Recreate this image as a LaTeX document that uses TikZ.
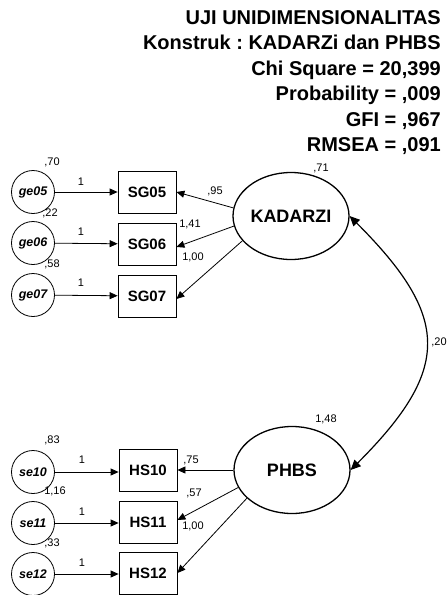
\documentclass[tikz,border=0pt]{standalone}
\usepackage{fontspec}
\setmainfont{Liberation Sans}
\usetikzlibrary{shapes.geometric,arrows.meta}
\frenchspacing
\begin{document}
\begin{tikzpicture}[x=1pt,y=-1pt,
  obsbox/.style={draw,line width=0.8pt,minimum width=58pt,minimum height=42pt,inner sep=0pt,
    font=\fontsize{15}{18}\selectfont\bfseries},
  latent/.style={ellipse,draw,line width=1.3pt,minimum width=116pt,minimum height=87pt,inner sep=0pt,
    font=\fontsize{18}{22}\selectfont\bfseries},
  errc/.style={circle,draw,line width=0.8pt,minimum size=43pt,inner sep=0pt,
    font=\fontsize{12.5}{15}\selectfont\bfseries\itshape},
  num/.style={inner sep=0pt,font=\fontsize{11}{13}\selectfont},
  titleline/.style={anchor=base east,inner sep=0pt,font=\fontsize{20}{24}\selectfont\bfseries},
  path1/.style={line width=0.8pt,-{Triangle[length=8pt,width=7pt]}},
  cov/.style={line width=1.2pt,{Triangle[length=10pt,width=9pt]}-{Triangle[length=10pt,width=9pt]}}]
\useasboundingbox (0,0) rectangle (447,595);

% heading with fit statistics
\node[titleline] (t1) at (441,24) {UJI UNIDIMENSIONALITAS};
\node[titleline] (t2) at (441,49.5) {Konstruk : KADARZi dan PHBS};
\node[titleline] (t3) at (441,75) {Chi Square = 20,399};
\node[titleline] (t4) at (441,100.5) {Probability = ,009};
\node[titleline] (t5) at (441,126) {GFI = ,967};
\node[titleline] (t6) at (441,151.5) {RMSEA = ,091};

% KADARZI block
\node[latent] (KADARZI) at (291,216) {KADARZI};
\node[obsbox] (SG05) at (147,192) {SG05};
\node[obsbox] (SG06) at (147,244) {SG06};
\node[obsbox] (SG07) at (147,296) {SG07};
\node[errc] (ge05) at (33,192) {ge05};
\node[errc] (ge06) at (33,243) {ge06};
\node[errc] (ge07) at (33,295) {ge07};

\draw[path1] (ge05) -- (SG05);
\draw[path1] (ge06) -- (SG06);
\draw[path1] (ge07) -- (SG07);
\draw[path1] (KADARZI.172) -- (SG05.east);
\draw[path1] (KADARZI.190) -- ([yshift=-3pt]SG06.east);
\draw[path1] (KADARZI.207) -- ([yshift=-3pt]SG07.east);

\node[num] (v70) at (52,162) {,70};
\node[num] (v22) at (50,213) {,22};
\node[num] (v58) at (52,264) {,58};
\node[num] (w1a) at (81,182) {1};
\node[num] (w1b) at (81,232) {1};
\node[num] (w1c) at (81,283) {1};
\node[num] (l95) at (215,191) {,95};
\node[num] (l141) at (190,224) {1,41};
\node[num] (l100a) at (193,257) {1,00};
\node[num] (v71) at (321,168) {,71};

% PHBS block
\node[latent] (PHBS) at (292,470) {PHBS};
\node[obsbox] (HS10) at (148,470) {HS10};
\node[obsbox] (HS11) at (148,522) {HS11};
\node[obsbox] (HS12) at (148,573) {HS12};
\node[errc] (se10) at (33,472) {se10};
\node[errc] (se11) at (33,523) {se11};
\node[errc] (se12) at (33,574) {se12};

\draw[path1] (se10) -- (se10 -| HS10.west);
\draw[path1] (se11) -- (se11 -| HS11.west);
\draw[path1] (se12) -- (se12 -| HS12.west);
\draw[path1] (PHBS.180) -- (HS10.east);
\draw[path1] (PHBS.198) -- ([yshift=2pt]HS11.east);
\draw[path1] (PHBS.212) -- (HS12.east);

\node[num] (v83) at (52,440) {,83};
\node[num] (v116) at (55,491) {1,16};
\node[num] (v33) at (52,543) {,33};
\node[num] (w1d) at (82,460) {1};
\node[num] (w1e) at (82,512) {1};
\node[num] (w1f) at (82,563) {1};
\node[num] (l75) at (191,460) {,75};
\node[num] (l57) at (194,493) {,57};
\node[num] (l100b) at (193,526) {1,00};
\node[num] (v148) at (326,419) {1,48};

% covariance between the two constructs
\draw[cov] (KADARZI.east) .. controls +(101,101) and +(101,-101) .. (PHBS.east);
\node[num] (c20) at (439,342) {,20};
\end{tikzpicture}
\end{document}
